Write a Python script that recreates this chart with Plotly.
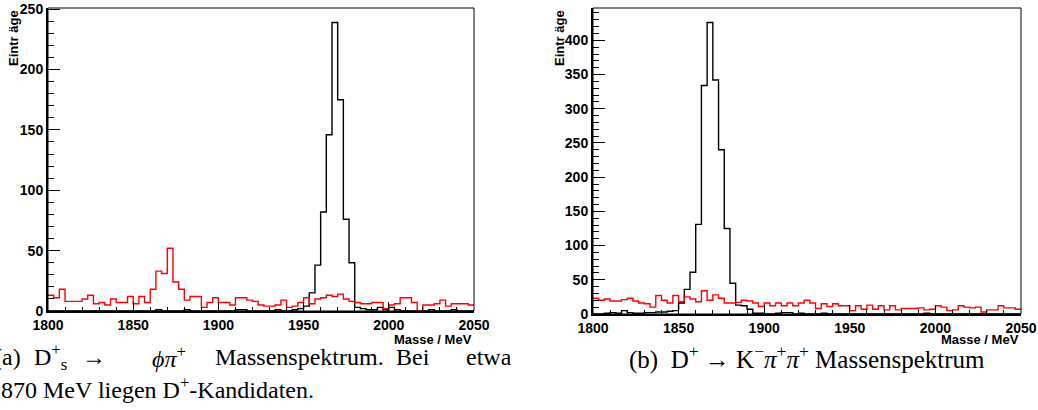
import numpy as np
import plotly.graph_objects as go

# ---------------- data ----------------
x_min, x_max, n_bins = 1800.0, 2050.0, 75
x_ticks = [1800, 1850, 1900, 1950, 2000, 2050]
y_ticks_a = [0, 50, 100, 150, 200, 250]
y_ticks_b = [0, 50, 100, 150, 200, 250, 300, 350, 400]

# (a) Ds+ -> phi pi+ : signal (black) and background (red)
ds_black = [0, 0, 0, 0, 0, 0, 0, 0, 0, 0, 0, 0, 0, 0, 0, 0, 0, 0, 0, 1,
            0, 0, 0, 0, 1, 0, 0, 0, 0, 0, 0, 0, 0, 1, 1, 0, 0, 0, 0, 0,
            1, 0, 0, 1, 2, 4, 15, 38, 82, 146, 239, 175, 76, 40, 3, 2, 1, 1, 3, 1,
            3, 1, 0, 0, 0, 0, 0, 1, 0, 0, 0, 1, 0, 0, 0]
ds_red = [13, 11, 18, 8, 8, 8, 10, 13, 6, 7, 5, 10, 7, 7, 12, 6, 12, 7, 18, 33,
          31, 52, 24, 18, 9, 12, 12, 3, 7, 11, 7, 7, 5, 11, 11, 9, 8, 5, 4, 4,
          5, 9, 3, 4, 7, 11, 6, 10, 11, 13, 12, 14, 10, 8, 7, 6, 6, 7, 7, 2,
          5, 6, 11, 11, 7, 0, 5, 5, 6, 9, 4, 6, 6, 6, 5]

# (b) D+ -> K- pi+ pi+ : signal (black) and background (red)
dp_black = [0, 0, 1, 2, 1, 5, 2, 1, 1, 2, 2, 3, 3, 4, 5, 16, 36, 61, 131, 334,
            426, 342, 240, 125, 45, 13, 12, 7, 1, 1, 0, 0, 1, 2, 2, 0, 1, 0, 0, 0,
            1, 0, 0, 0, 0, 0, 0, 0, 0, 0, 0, 0, 0, 0, 0, 0, 0, 0, 1, 0,
            0, 0, 0, 0, 0, 0, 0, 0, 0, 0, 0, 0, 0, 0, 0]
dp_red = [23, 20, 22, 19, 19, 21, 23, 19, 16, 15, 10, 27, 20, 16, 27, 18, 25, 22, 18, 34,
          20, 28, 23, 16, 16, 17, 20, 19, 16, 11, 16, 12, 16, 12, 16, 12, 16, 20, 16, 8,
          15, 11, 15, 12, 12, 5, 12, 7, 13, 7, 12, 6, 12, 6, 8, 8, 8, 9, 6, 7,
          12, 10, 5, 6, 12, 10, 9, 10, 3, 6, 6, 12, 9, 9, 7]

y_title = "Eintr äge"
x_title = "Masse / MeV"

# ---------------- figure ----------------
W, H = 1038, 410
edges = np.linspace(x_min, x_max, n_bins + 1)


def step(vals, color, xa, ya):
    return go.Scatter(x=edges, y=list(vals) + [vals[-1]], mode="lines",
                      line=dict(color=color, width=1.4, shape="hv"),
                      xaxis=xa, yaxis=ya, showlegend=False, hoverinfo="skip")


fig = go.Figure()
fig.add_trace(step(ds_black, "black", "x", "y"))
fig.add_trace(step(ds_red, "#ff0000", "x", "y"))
fig.add_trace(step(dp_black, "black", "x2", "y2"))
fig.add_trace(step(dp_red, "#ff0000", "x2", "y2"))

tickfont = dict(family="Liberation Sans, Arial, sans-serif", size=14, color="black", weight=700)


def bold(vals):
    return [f"<b>{v}</b>" for v in vals]


def xaxis(domain, anchor):
    return dict(domain=domain, anchor=anchor, range=[x_min, x_max], automargin=False,
                tickvals=x_ticks, ticktext=bold(x_ticks),
                ticks="inside", ticklen=9, tickwidth=1, tickcolor="black",
                minor=dict(dtick=10, tick0=1800, ticks="inside", ticklen=4.5, tickcolor="black", tickwidth=1),
                showline=True, linecolor="black", linewidth=2, showgrid=False, zeroline=False,
                tickfont=tickfont, fixedrange=True)


def yaxis(domain, anchor, top, ticks):
    return dict(domain=domain, anchor=anchor, range=[0, top], automargin=False,
                tickvals=ticks, ticktext=bold(ticks),
                ticks="inside", ticklen=12, tickwidth=1, tickcolor="black",
                minor=dict(dtick=10, tick0=0, ticks="inside", ticklen=6, tickcolor="black", tickwidth=1),
                showline=True, linecolor="black", linewidth=2, showgrid=False, zeroline=False,
                tickfont=tickfont, fixedrange=True)


fig.update_layout(
    width=W, height=H, margin=dict(l=0, r=0, t=0, b=0, autoexpand=False),
    paper_bgcolor="white", plot_bgcolor="white",
    xaxis=xaxis([48 / W, 474 / W], "y"),
    yaxis=yaxis([1 - 311 / H, 1 - 8 / H], "x", 1.05 * max(ds_black), y_ticks_a),
    xaxis2=xaxis([593 / W, 1021 / W], "y2"),
    yaxis2=yaxis([1 - 314 / H, 1 - 8 / H], "x2", 1.05 * max(dp_black), y_ticks_b),
)

for xr, yr in [("x", "y"), ("x2", "y2")]:
    fig.add_shape(type="rect", xref=f"{xr} domain", yref=f"{yr} domain",
                  x0=0, x1=1, y0=0, y1=1, line=dict(color="black", width=1), layer="above")

labfont = dict(family="Liberation Sans, Arial, sans-serif", size=13, color="black", weight=700)
# y titles
for xc in (13, 559):
    fig.add_annotation(text=f"<b>{y_title}</b>", textangle=-90, xref="paper", yref="paper",
                       x=xc / W, y=1 - 8 / H, xanchor="center", yanchor="top",
                       showarrow=False, font=labfont)
# x titles
for xr in (474, 1021):
    fig.add_annotation(text=f"<b>{x_title}</b>", xref="paper", yref="paper",
                       x=xr / W, y=1 - 330 / H, xanchor="right", yanchor="top",
                       showarrow=False, font=labfont)

capfont = dict(family="Liberation Serif, Times New Roman, serif", size=24, color="black")
line1_y = 1 - 357 / H
line2_y = 1 - 388 / H
pieces = [(-8, "(a)"), (32, "D<sup>+</sup><sub>s</sub>"), (80, "→"),
          (150, "<i>ϕπ</i><sup>+</sup>"), (213, "Massenspektrum."), (394, "Bei"), (464, "etwa")]
for xp, t in pieces:
    fig.add_annotation(text=t, xref="paper", yref="paper", x=xp / W, y=line1_y,
                       xanchor="left", yanchor="middle", showarrow=False, font=capfont)
fig.add_annotation(text="1870 MeV liegen D<sup>+</sup>-Kandidaten.", xref="paper", yref="paper",
                   x=-13 / W, y=line2_y, xanchor="left", yanchor="middle", showarrow=False, font=capfont)
fig.add_annotation(text="(b)  D<sup>+</sup> → K<sup>−</sup><i>π</i><sup>+</sup><i>π</i><sup>+</sup> Massenspektrum",
                   xref="paper", yref="paper", x=807 / W, y=line1_y,
                   xanchor="center", yanchor="middle", showarrow=False,
                   font=dict(family="Liberation Serif, Times New Roman, serif", size=25, color="black"))

fig.write_html("out.html", config={"displayModeBar": False},
               post_script="document.body.style.margin='0';document.body.style.overflow='hidden';")
